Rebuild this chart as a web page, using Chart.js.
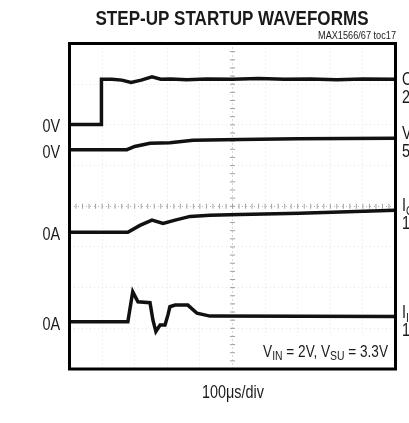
<!DOCTYPE html>
<html>
<head>
<meta charset="utf-8">
<script src="https://cdn.jsdelivr.net/npm/chart.js@4.4.1/dist/chart.umd.min.js"></script>
<style>
  body { margin: 0; background: #fff; }
  #wrap { width: 409px; height: 423px; position: relative; }
</style>
</head>
<body>
<div id="wrap"><canvas id="scopeChart" width="409" height="423"></canvas></div>
<script>
// screen divisions: x 0..10 (100us/div), y 0..8
var onX   = [0, 0.97, 0.98, 1.3, 1.6, 1.89, 2.2, 2.53, 2.8, 3.1, 3.6, 4.2, 5, 5.8, 6.6, 7.4, 8.2, 9, 10];
var onY   = [6.01, 6.01, 7.12, 7.12, 7.10, 7.04, 7.10, 7.18, 7.12, 7.13, 7.11, 7.13, 7.12, 7.14, 7.12, 7.13, 7.11, 7.13, 7.12];
var vsuX  = [0, 1.76, 2.0, 2.47, 3.08, 3.79, 5.23, 7, 10];
var vsuY  = [5.39, 5.39, 5.47, 5.55, 5.56, 5.62, 5.64, 5.66, 5.67];
var ioutX = [0, 1.79, 2.16, 2.53, 2.87, 3.24, 3.70, 4.31, 5.23, 7.07, 10];
var ioutY = [3.36, 3.36, 3.53, 3.66, 3.58, 3.66, 3.75, 3.78, 3.80, 3.83, 3.90];
var iinX  = [0, 1.79, 1.94, 2.10, 2.47, 2.56, 2.65, 2.78, 2.93, 3.02, 3.08, 3.24, 3.63, 3.91, 4.31, 10];
var iinY  = [1.16, 1.16, 1.90, 1.65, 1.63, 1.20, 0.92, 1.08, 1.08, 1.33, 1.53, 1.57, 1.57, 1.37, 1.30, 1.29];

var groundLabels = ['0V', '0V', '0A', '0A'];
var traceNames = [['ON', 'SU'], ['V', 'SU'], ['I', 'OUT'], ['I', 'IN']];
var traceScales = ['2V/div', '5V/div', '1A/div', '1A/div'];

var FONT = '"Liberation Sans", Arial, sans-serif';
var SQ = 0.8; // horizontal squeeze to mimic a condensed face

function pts(xs, ys) {
  var out = [];
  for (var i = 0; i < xs.length; i++) out.push({x: xs[i], y: ys[i]});
  return out;
}

function trace(label, xs, ys) {
  return {
    label: label,
    data: pts(xs, ys),
    borderColor: '#111',
    borderWidth: 3.5,
    pointRadius: 0,
    tension: 0,
    fill: false
  };
}

// draws text squeezed horizontally; returns drawn width
function narrowText(ctx, str, x, y, font, align, sx) {
  ctx.save();
  ctx.font = font;
  ctx.textAlign = align;
  ctx.translate(x, y);
  ctx.scale(sx, 1);
  ctx.fillText(str, 0, 0);
  var w = ctx.measureText(str).width * sx;
  ctx.restore();
  return w;
}

function textWidth(ctx, str, font) {
  ctx.save();
  ctx.font = font;
  var w = ctx.measureText(str).width;
  ctx.restore();
  return w;
}

var scopePlugin = {
  id: 'scope',
  beforeDatasetsDraw: function(chart) {
    var ctx = chart.ctx, a = chart.chartArea;
    var xs = chart.scales.x, ys = chart.scales.y;
    ctx.save();
    // small ticks on the centre lines
    ctx.strokeStyle = '#a0a0a0';
    ctx.lineWidth = 1;
    var cx = xs.getPixelForValue(5), cy = ys.getPixelForValue(4);
    for (var v = 0; v <= 10; v += 0.2) {
      var px = xs.getPixelForValue(v);
      ctx.beginPath(); ctx.moveTo(px, cy - 2.5); ctx.lineTo(px, cy + 2.5); ctx.stroke();
    }
    for (var w = 0; w <= 8; w += 0.2) {
      var py = ys.getPixelForValue(w);
      ctx.beginPath(); ctx.moveTo(cx - 2.5, py); ctx.lineTo(cx + 2.5, py); ctx.stroke();
    }
    // white box behind the note
    ctx.fillStyle = '#fff';
    ctx.fillRect(252, 336, a.right - 252, a.bottom - 336);
    ctx.restore();
  },
  afterDraw: function(chart) {
    var ctx = chart.ctx, a = chart.chartArea;
    var ys = chart.scales.y;
    ctx.save();
    // frame
    ctx.strokeStyle = '#000';
    ctx.lineWidth = 3;
    ctx.strokeRect(a.left, a.top, a.right - a.left, a.bottom - a.top);

    ctx.fillStyle = '#1a1a1a';
    ctx.textBaseline = 'alphabetic';
    // title, fitted to its width in the original
    var tf = 'bold 21px ' + FONT;
    var title = 'STEP-UP STARTUP WAVEFORMS';
    narrowText(ctx, title, 232, 25, tf, 'center', 273 / textWidth(ctx, title, tf));
    var sf = '10px ' + FONT, sub = 'MAX1566/67 toc17';
    narrowText(ctx, sub, 396, 39, sf, 'right', 78 / textWidth(ctx, sub, sf));

    // ground markers
    var starts = [onY[0], vsuY[0], ioutY[0], iinY[0]];
    for (var i = 0; i < starts.length; i++) {
      narrowText(ctx, groundLabels[i], 60, ys.getPixelForValue(starts[i]) + 8, '18px ' + FONT, 'right', SQ);
    }

    // trace names on the right (run off the picture)
    var nameY = [85, 139, 211, 318];
    for (var j = 0; j < traceNames.length; j++) {
      var wd = narrowText(ctx, traceNames[j][0], 402, nameY[j], '18px ' + FONT, 'left', SQ);
      narrowText(ctx, traceNames[j][1], 402 + wd, nameY[j] + 4, '13px ' + FONT, 'left', SQ);
      narrowText(ctx, traceScales[j], 402, nameY[j] + 18, '18px ' + FONT, 'left', SQ);
    }

    // note inside the plot
    var parts = [['V', 0], ['IN', 1], [' = 2V, V', 0], ['SU', 1], [' = 3.3V', 0]];
    var total = 0;
    for (var k = 0; k < parts.length; k++) {
      total += textWidth(ctx, parts[k][0], (parts[k][1] ? '13px ' : '17px ') + FONT) * SQ;
    }
    var x0 = 388 - total;
    for (var m = 0; m < parts.length; m++) {
      x0 += narrowText(ctx, parts[m][0], x0, parts[m][1] ? 360 : 357,
                       (parts[m][1] ? '13px ' : '17px ') + FONT, 'left', SQ);
    }

    // time base
    narrowText(ctx, '100\u03bcs/div', 233, 398, '18px ' + FONT, 'center', SQ);
    ctx.restore();
  }
};

var ctx = document.getElementById('scopeChart').getContext('2d');
var chart = new Chart(ctx, {
    type: 'line',
    data: {
        datasets: [
          trace('ON', onX, onY),
          trace('VSU', vsuX, vsuY),
          trace('IOUT', ioutX, ioutY),
          trace('IIN', iinX, iinY)
        ]
    },
    options: {
        responsive: false,
        animation: false,
        devicePixelRatio: 1,
        layout: { padding: { left: 69.5, right: 13.5, top: 43.5, bottom: 54 } },
        plugins: { legend: { display: false }, tooltip: { enabled: false } },
        scales: {
            x: {
                type: 'linear', min: 0, max: 10,
                ticks: { display: false, stepSize: 1 },
                grid: { drawTicks: false, color: function(c) { return c.tick && c.tick.value === 5 ? '#b0b0b0' : '#e2e2e2'; } },
                border: { display: false, dash: [1, 3] }
            },
            y: {
                type: 'linear', min: 0, max: 8,
                ticks: { display: false, stepSize: 1 },
                grid: { drawTicks: false, color: function(c) { return c.tick && c.tick.value === 4 ? '#b0b0b0' : '#e2e2e2'; } },
                border: { display: false, dash: [1, 3] }
            }
        }
    },
    plugins: [scopePlugin]
});
</script>
</body>
</html>
